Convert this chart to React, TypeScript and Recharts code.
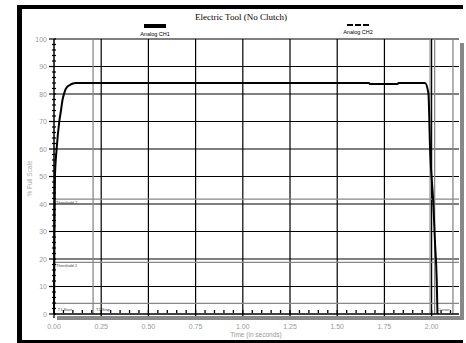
import React from 'react';
import { LineChart, Line, XAxis, YAxis, ReferenceLine } from 'recharts';

// Analog CH1 trace (time in seconds, % full scale)
const timeSec = [0, 0.002, 0.005, 0.014, 0.028, 0.037, 0.045, 0.053, 0.06, 0.07, 0.085, 0.1, 0.115, 0.5, 1.0, 1.5, 1.668, 1.675, 1.818, 1.825, 1.965, 1.983, 1.992, 2.009, 2.018, 2.027, 2.031];
const ch1 = [0, 25, 50, 60, 70, 74, 77.8, 80, 81.5, 82.6, 83.3, 83.8, 84, 84, 84, 84, 84, 83.6, 83.6, 84, 84, 80.2, 59.6, 40.3, 25.8, 12.4, 0];

const data = timeSec.map((t, i) => ({ t, ch1: ch1[i] }));

const xTicks = [0, 0.05, 0.1, 0.15, 0.2, 0.25, 0.3, 0.35, 0.4, 0.45, 0.5, 0.55, 0.6, 0.65, 0.7, 0.75, 0.8, 0.85, 0.9, 0.95, 1.0, 1.05, 1.1, 1.15, 1.2, 1.25, 1.3, 1.35, 1.4, 1.45, 1.5, 1.55, 1.6, 1.65, 1.7, 1.75, 1.8, 1.85, 1.9, 1.95, 2.0, 2.05, 2.1];
const xMajor = [0, 0.25, 0.5, 0.75, 1.0, 1.25, 1.5, 1.75, 2.0];
const yTicks = [0, 2, 4, 6, 8, 10, 12, 14, 16, 18, 20, 22, 24, 26, 28, 30, 32, 34, 36, 38, 40, 42, 44, 46, 48, 50, 52, 54, 56, 58, 60, 62, 64, 66, 68, 70, 72, 74, 76, 78, 80, 82, 84, 86, 88, 90, 92, 94, 96, 98, 100];
const yMajor = [10, 20, 30, 40, 50, 60, 70, 80, 90, 100];

// extra marker lines
const thresholds = [{ y: 41.8, name: 'Threshold 2' }, { y: 18.8, name: 'Threshold 1' }];
const cursors = [{ x: 0.207, name: 'T2 Stop' }, { x: 1.992, name: '' }, { x: 2.016, name: 'Cursor' }, { x: 2.113, name: '' }];
const baseLevel = 3.9;

const series = [
  { name: 'Analog CH1', dash: false },
  { name: 'Analog CH2', dash: true },
];

const sans = 'Liberation Sans, Arial, sans-serif';

const XTick = (props: any) => {
  const { x, y, payload } = props;
  const v = payload.value;
  const major = xMajor.some((m) => Math.abs(m - v) < 1e-6);
  return (
    <g>
      <line x1={x} x2={x} y1={y - 4} y2={major ? y + 4 : y - 1} stroke="#000" strokeWidth={1.3} />
      {major && (
        <text x={x} y={y + 15} textAnchor="middle" fontSize={7} fill="#999" fontFamily={sans}>
          {v.toFixed(2)}
        </text>
      )}
    </g>
  );
};

const YTick = (props: any) => {
  const { x, y, payload } = props;
  const v = payload.value;
  const major = v % 10 === 0;
  return (
    <g>
      <line x1={major ? x - 5 : x - 2} x2={x + 2} y1={y} y2={y} stroke="#000" strokeWidth={1.2} />
      {major && (
        <text x={x - 7} y={y + 2.5} textAnchor="end" fontSize={7} fill="#999" fontFamily={sans}>
          {v}
        </text>
      )}
    </g>
  );
};

export default function App() {
  return (
    <div style={{ position: 'absolute', left: 0, top: 0, width: 466, height: 343, background: '#fff', overflow: 'hidden' }}>
      {/* frame */}
      <div style={{ position: 'absolute', left: 17, top: 5, width: 446, height: 4, background: '#000' }} />
      <div style={{ position: 'absolute', left: 17, top: 5, width: 5, height: 338, background: '#000' }} />
      <div style={{ position: 'absolute', left: 17, top: 340, width: 446, height: 4, background: '#000' }} />

      <div style={{ position: 'absolute', left: 0, top: 12, width: 482, textAlign: 'center', fontFamily: 'Liberation Serif, Times New Roman, serif', fontSize: 9, color: '#000' }}>
        Electric Tool (No Clutch)
      </div>

      {/* legend */}
      {series.map((s, i) => (
        <div key={s.name} style={{ position: 'absolute', left: i === 0 ? 134 : 337, top: 24, width: 42, textAlign: 'center', fontFamily: sans, fontSize: 5.5, color: '#000' }}>
          <div style={{ width: 22, height: 0, margin: '0 auto 3px', borderTop: s.dash ? '2px dashed #000' : '4px solid #000' }} />
          {s.name}
        </div>
      ))}

      <LineChart width={466} height={343} data={data} margin={{ top: 39, right: 7, bottom: 0, left: 0 }} style={{ position: 'absolute', left: 0, top: 0 }}>
        <XAxis dataKey="t" type="number" domain={[0, 2.145]} ticks={xTicks} tick={<XTick />} tickLine={false} tickSize={0} tickMargin={0} height={29} axisLine={{ stroke: '#000', strokeWidth: 1.5 }} interval={0} />
        <YAxis type="number" domain={[0, 100]} ticks={yTicks} tick={<YTick />} tickLine={false} tickSize={0} tickMargin={0} width={54} axisLine={{ stroke: '#000', strokeWidth: 1.5 }} interval={0} />
        {xMajor.slice(1).map((v) => (
          <ReferenceLine key={'gx' + v} x={v} stroke="#000" strokeWidth={1.2} />
        ))}
        {yMajor.map((v) => (
          <ReferenceLine key={'gy' + v} y={v} stroke="#000" strokeWidth={1.2} />
        ))}
        <ReferenceLine y={baseLevel} stroke="#888" strokeWidth={1.3} />
        {thresholds.map((t) => (
          <ReferenceLine key={t.name} y={t.y} stroke="#888" strokeWidth={1.3}
            label={{ value: t.name, position: 'insideTopLeft', offset: 2, fontSize: 4, fill: '#444', fontFamily: sans }} />
        ))}
        {cursors.map((c) => (
          <ReferenceLine key={'c' + c.x} x={c.x} stroke="#888" strokeWidth={1.3}
            label={c.name ? { value: c.name, position: 'insideBottomLeft', offset: 3, fontSize: 4, fill: '#444', fontFamily: sans } : undefined} />
        ))}
        <ReferenceLine x={0.004} stroke="none"
          label={{ value: 'T1 Start', position: 'insideBottomLeft', offset: 3, fontSize: 4, fill: '#444', fontFamily: sans }} />
        <Line type="monotone" dataKey="ch1" stroke="#000" strokeWidth={2} dot={false} isAnimationActive={false} />
      </LineChart>

      {/* scroll bars */}
      <div style={{ position: 'absolute', left: 57, top: 316, width: 403, height: 4, background: '#888' }} />
      <div style={{ position: 'absolute', left: 460, top: 43, width: 4, height: 277, background: '#888' }} />

      <div style={{ position: 'absolute', left: 206, top: 331, width: 100, textAlign: 'center', fontFamily: sans, fontSize: 6.5, color: '#999' }}>
        Time (in seconds)
      </div>
      <div style={{ position: 'absolute', left: 29, top: 180, width: 0, height: 0 }}>
        <div style={{ position: 'absolute', left: -40, top: -5, width: 80, textAlign: 'center', transform: 'rotate(-90deg)', fontFamily: sans, fontSize: 6.5, color: '#aaa', whiteSpace: 'nowrap' }}>
          % Full Scale
        </div>
      </div>
    </div>
  );
}
